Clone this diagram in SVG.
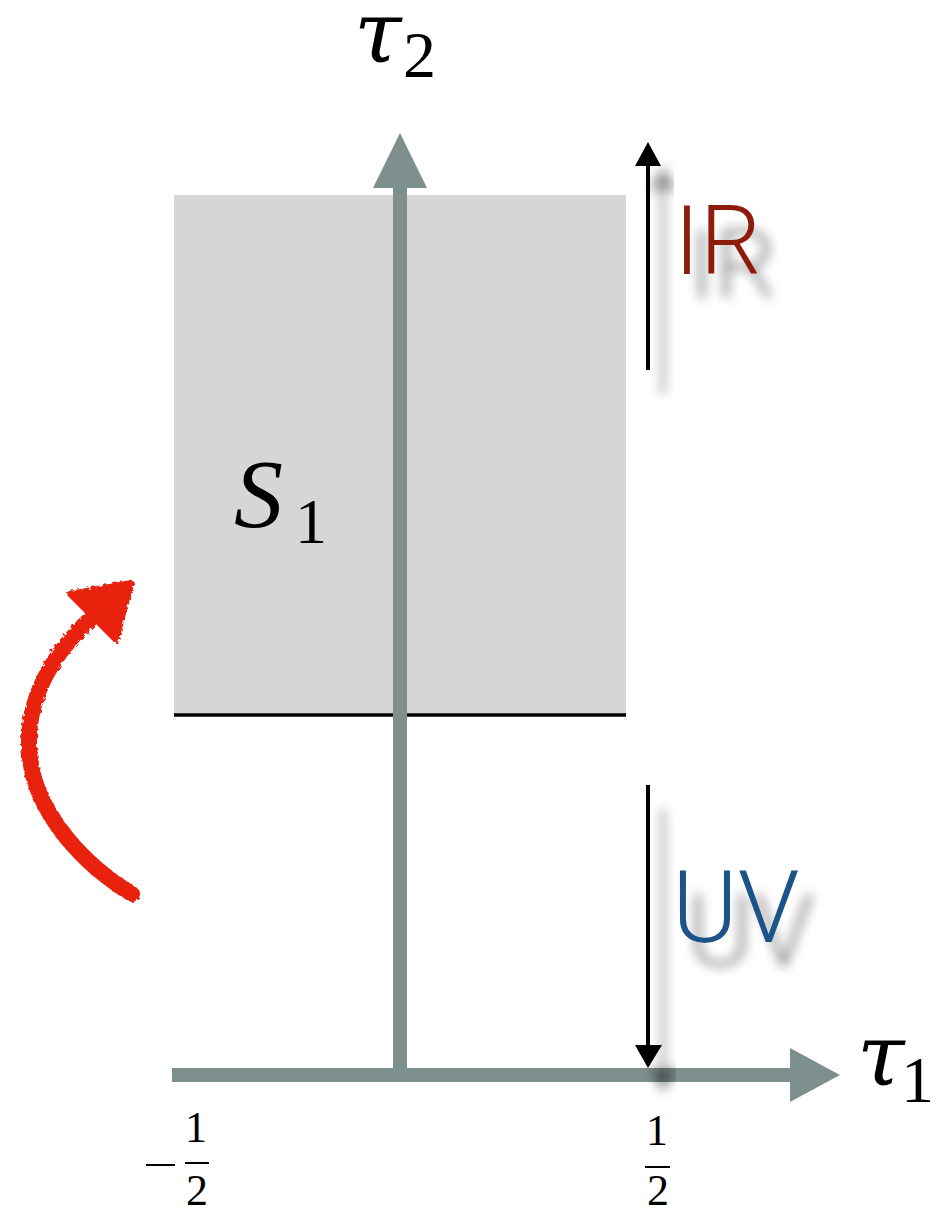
<svg xmlns="http://www.w3.org/2000/svg" width="944" height="1209" viewBox="0 0 944 1209">
<style>
.axis{stroke:#7E908E;stroke-width:14;fill:none}
.axhead{fill:#7E908E}
.blk{stroke:#000;stroke-width:4;fill:none}
.math{font-family:"Liberation Serif","DejaVu Serif",serif;fill:#000}
.greek{font-family:"DejaVu Serif","Liberation Serif",serif;font-style:italic;fill:#000}
.lbl{font-family:"Roboto","Liberation Sans",sans-serif;font-weight:300}
</style>
<defs>
<filter id="shadow" x="-50%" y="-50%" width="200%" height="200%">
<feGaussianBlur in="SourceAlpha" stdDeviation="6"/>
<feOffset dx="15" dy="24" result="b"/>
<feComponentTransfer><feFuncA type="linear" slope="0.45"/></feComponentTransfer>
<feMerge><feMergeNode/><feMergeNode in="SourceGraphic"/></feMerge>
</filter>
<filter id="rough" x="-20%" y="-20%" width="140%" height="140%">
<feTurbulence type="fractalNoise" baseFrequency="0.25" numOctaves="2" result="n"/>
<feDisplacementMap in="SourceGraphic" in2="n" scale="5"/>
</filter>
</defs>
<rect width="944" height="1209" fill="#fff"/>
<g id="region-S1">
<rect x="174" y="195" width="452" height="520" fill="#D6D6D6"/>
<line x1="174" y1="715" x2="626" y2="715" stroke="#000" stroke-width="3.5"/>
<text class="math" x="234" y="527" font-size="98" font-style="italic">S</text>
<text class="math" x="295" y="543" font-size="64">1</text>
</g>
<g id="axis-tau2">
<line class="axis" x1="400" y1="1076" x2="400" y2="185"/>
<polygon class="axhead" points="400,133 427,188 373,188"/>
<text class="greek" x="354" y="62" font-size="86">τ</text>
<text class="math" x="403" y="77" font-size="66">2</text>
</g>
<g id="axis-tau1">
<line class="axis" x1="172" y1="1075" x2="792" y2="1075"/>
<polygon class="axhead" points="840,1075 790,1048 790,1102"/>
<text class="greek" x="857" y="1085" font-size="86">τ</text>
<text class="math" x="901" y="1102" font-size="66">1</text>
</g>
<g id="tick-minus-half" class="math" font-size="44">
<line x1="146" y1="1165" x2="175" y2="1165" stroke="#000" stroke-width="2"/>
<text x="196" y="1142" text-anchor="middle">1</text>
<line x1="185" y1="1163" x2="209" y2="1163" stroke="#000" stroke-width="2"/>
<text x="197" y="1205" text-anchor="middle">2</text>
</g>
<g id="tick-half" class="math" font-size="44">
<text x="657" y="1145" text-anchor="middle">1</text>
<line x1="645" y1="1167" x2="670" y2="1167" stroke="#000" stroke-width="2"/>
<text x="658" y="1205" text-anchor="middle">2</text>
</g>
<g id="connectors">
<g id="arrow-IR" filter="url(#shadow)">
<line class="blk" x1="648" y1="370" x2="648" y2="162"/>
<polygon points="648,142 661,166 635,166" fill="#000"/>
</g>
<g id="arrow-UV" filter="url(#shadow)">
<line class="blk" x1="648" y1="785" x2="648" y2="1050"/>
<polygon points="648,1068 662,1045 635,1045" fill="#000"/>
</g>
<g id="arrow-red" filter="url(#rough)">
<path d="M132,894 C92,870 30,815 29,745 C28,690 60,645 98,612" fill="none" stroke="#E8230F" stroke-width="16" stroke-linecap="round"/>
<polygon points="70,594 131,583 116,640" fill="#E8230F" stroke="#E8230F" stroke-width="6" stroke-linejoin="round"/>
</g>
</g>
<g id="label-IR" filter="url(#shadow)">
<text class="lbl" x="674" y="274" font-size="97" fill="#8E1A10">IR</text>
</g>
<g id="label-UV" filter="url(#shadow)">
<text class="lbl" x="672" y="942" font-size="100" fill="#1D5288">UV</text>
</g>
</svg>
